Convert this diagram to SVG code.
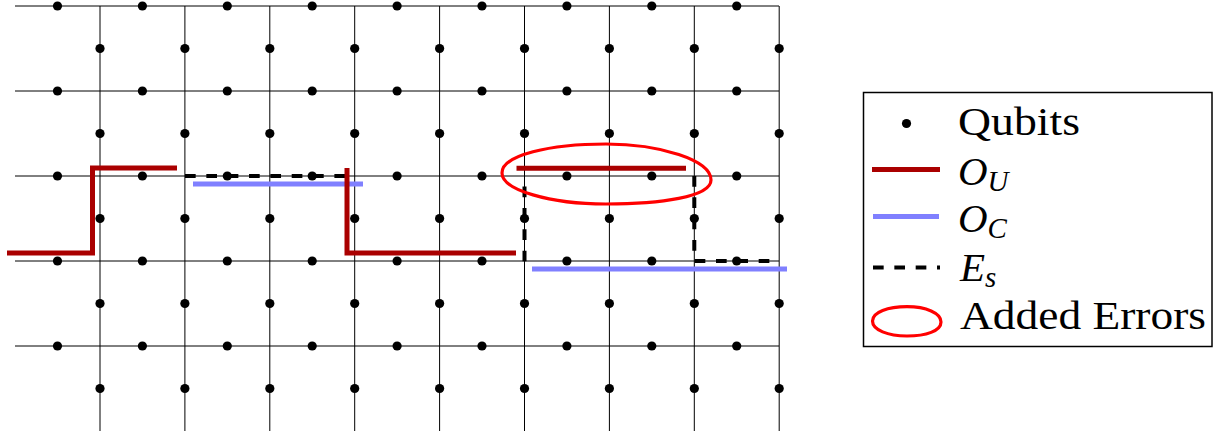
<svg xmlns="http://www.w3.org/2000/svg" width="1214" height="431" viewBox="0 0 1214 431">
<style>
.grid{stroke:#000;stroke-width:1;fill:none}
.q{fill:#000}
.ou{stroke:#aa0000;stroke-width:5;fill:none;stroke-linejoin:miter}
.oc{stroke:#8080ff;stroke-width:5;fill:none}
.es{stroke:#000;stroke-width:4;fill:none;stroke-dasharray:10.67 10.67}
.err{stroke:#ff0000;stroke-width:3.2;fill:none}
text{font-family:"Liberation Serif",serif;fill:#000}
</style>
<defs>
<circle id="d" r="4.6" class="q"/>
</defs>
<rect width="1214" height="431" fill="#fff"/>
<g id="grid" class="grid">
<path d="M15,6H779M15,91H779M15,176H779M15,261H779M15,346H779"/>
<path d="M100,6V431M184.9,6V431M269.8,6V431M354.7,6V431M439.6,6V431M524.5,6V431M609.4,6V431M694.3,6V431M779.2,6V431"/>
</g>
<g id="qubits">
<g id="row-h0"><use href="#d" x="57.5" y="6"/><use href="#d" x="142.4" y="6"/><use href="#d" x="227.3" y="6"/><use href="#d" x="312.2" y="6"/><use href="#d" x="397.1" y="6"/><use href="#d" x="482" y="6"/><use href="#d" x="566.9" y="6"/><use href="#d" x="651.8" y="6"/><use href="#d" x="736.7" y="6"/></g>
<g id="row-h1"><use href="#d" x="57.5" y="91"/><use href="#d" x="142.4" y="91"/><use href="#d" x="227.3" y="91"/><use href="#d" x="312.2" y="91"/><use href="#d" x="397.1" y="91"/><use href="#d" x="482" y="91"/><use href="#d" x="566.9" y="91"/><use href="#d" x="651.8" y="91"/><use href="#d" x="736.7" y="91"/></g>
<g id="row-h2"><use href="#d" x="57.5" y="176"/><use href="#d" x="142.4" y="176"/><use href="#d" x="227.3" y="176"/><use href="#d" x="312.2" y="176"/><use href="#d" x="397.1" y="176"/><use href="#d" x="482" y="176"/><use href="#d" x="566.9" y="176"/><use href="#d" x="651.8" y="176"/><use href="#d" x="736.7" y="176"/></g>
<g id="row-h3"><use href="#d" x="57.5" y="261"/><use href="#d" x="142.4" y="261"/><use href="#d" x="227.3" y="261"/><use href="#d" x="312.2" y="261"/><use href="#d" x="397.1" y="261"/><use href="#d" x="482" y="261"/><use href="#d" x="566.9" y="261"/><use href="#d" x="651.8" y="261"/><use href="#d" x="736.7" y="261"/></g>
<g id="row-h4"><use href="#d" x="57.5" y="346"/><use href="#d" x="142.4" y="346"/><use href="#d" x="227.3" y="346"/><use href="#d" x="312.2" y="346"/><use href="#d" x="397.1" y="346"/><use href="#d" x="482" y="346"/><use href="#d" x="566.9" y="346"/><use href="#d" x="651.8" y="346"/><use href="#d" x="736.7" y="346"/></g>
<g id="row-v0"><use href="#d" x="100" y="48.5"/><use href="#d" x="184.9" y="48.5"/><use href="#d" x="269.8" y="48.5"/><use href="#d" x="354.7" y="48.5"/><use href="#d" x="439.6" y="48.5"/><use href="#d" x="524.5" y="48.5"/><use href="#d" x="609.4" y="48.5"/><use href="#d" x="694.3" y="48.5"/><use href="#d" x="779.2" y="48.5"/></g>
<g id="row-v1"><use href="#d" x="100" y="133.5"/><use href="#d" x="184.9" y="133.5"/><use href="#d" x="269.8" y="133.5"/><use href="#d" x="354.7" y="133.5"/><use href="#d" x="439.6" y="133.5"/><use href="#d" x="524.5" y="133.5"/><use href="#d" x="609.4" y="133.5"/><use href="#d" x="694.3" y="133.5"/><use href="#d" x="779.2" y="133.5"/></g>
<g id="row-v2"><use href="#d" x="100" y="218.5"/><use href="#d" x="184.9" y="218.5"/><use href="#d" x="269.8" y="218.5"/><use href="#d" x="354.7" y="218.5"/><use href="#d" x="439.6" y="218.5"/><use href="#d" x="524.5" y="218.5"/><use href="#d" x="609.4" y="218.5"/><use href="#d" x="694.3" y="218.5"/><use href="#d" x="779.2" y="218.5"/></g>
<g id="row-v3"><use href="#d" x="100" y="303.5"/><use href="#d" x="184.9" y="303.5"/><use href="#d" x="269.8" y="303.5"/><use href="#d" x="354.7" y="303.5"/><use href="#d" x="439.6" y="303.5"/><use href="#d" x="524.5" y="303.5"/><use href="#d" x="609.4" y="303.5"/><use href="#d" x="694.3" y="303.5"/><use href="#d" x="779.2" y="303.5"/></g>
<g id="row-v4"><use href="#d" x="100" y="388.5"/><use href="#d" x="184.9" y="388.5"/><use href="#d" x="269.8" y="388.5"/><use href="#d" x="354.7" y="388.5"/><use href="#d" x="439.6" y="388.5"/><use href="#d" x="524.5" y="388.5"/><use href="#d" x="609.4" y="388.5"/><use href="#d" x="694.3" y="388.5"/><use href="#d" x="779.2" y="388.5"/></g>
</g>
<g id="connectors">
<path id="es1" class="es" d="M185,176H347"/>
<path id="es2" class="es" d="M524.5,261.3V176"/>
<path id="es3" class="es" d="M694.3,176V261H779"/>
<path id="oc1" class="oc" d="M193,184H363"/>
<path id="oc2" class="oc" d="M532,269H787"/>
<path id="ou1" class="ou" d="M7,253H92.5V168H177"/>
<path id="ou2" class="ou" d="M347,168V253H516"/>
<path id="ou3" class="ou" d="M516.5,168.3H686"/>
</g>
<g id="added-errors">
<path class="err" d="M502,173C502,155 550,144 606,144C660,144 711,160 711,180C711,197 660,204 606,204C550,204 502,190 502,173Z"/>
</g>
<g id="legend">
<rect x="863.5" y="92.5" width="348.5" height="254" fill="#fff" stroke="#000" stroke-width="1.5"/>
<use href="#d" x="906.5" y="123.5"/>
<path class="ou" d="M872,169.5H940"/>
<path class="oc" d="M873,216.5H939"/>
<path class="es" d="M873,267.5H940"/>
<path class="err" d="M872.5,321C872.5,312 888,306.7 907,306.7C926,306.7 941,313 941,322C941,331 926,336 907,336C888,336 872.5,330 872.5,321Z"/>
<text font-family="Liberation Serif" font-size="41" x="958" y="135" textLength="122" lengthAdjust="spacingAndGlyphs">Qubits</text>
<text font-family="Liberation Serif" font-size="41" font-style="italic" x="958" y="185">O<tspan font-size="29" dy="6">U</tspan></text>
<text font-family="Liberation Serif" font-size="41" font-style="italic" x="958" y="232">O<tspan font-size="29" dy="6">C</tspan></text>
<text font-family="Liberation Serif" font-size="41" font-style="italic" x="960" y="281">E<tspan font-size="29" dy="6">s</tspan></text>
<text font-family="Liberation Serif" font-size="41" x="960" y="329" textLength="246" lengthAdjust="spacingAndGlyphs">Added Errors</text>
</g>
</svg>
